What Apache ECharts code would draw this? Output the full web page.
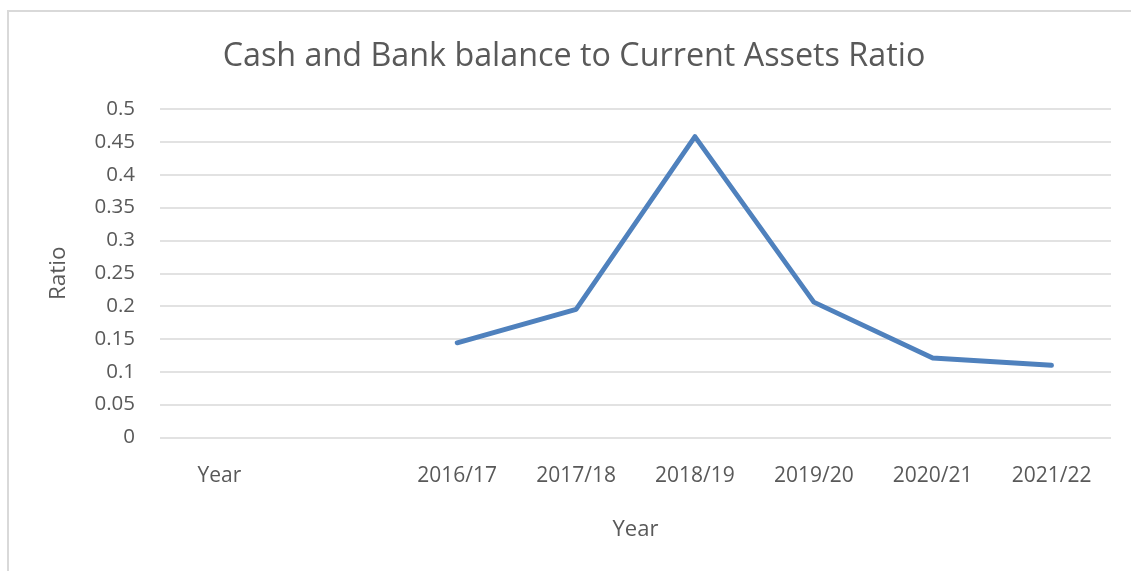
<!DOCTYPE html>
<html>
<head>
<meta charset="utf-8">
<script src="https://cdn.jsdelivr.net/npm/echarts@6/dist/echarts.min.js"></script>
<style>
  html, body { margin: 0; padding: 0; background: #ffffff; }
  #chart { width: 1131px; height: 571px; }
</style>
</head>
<body>
<div id="chart"></div>
<script>
// Category labels; the second slot is intentionally empty
const categories = ['Year', '', '2016/17', '2017/18', '2018/19', '2019/20', '2020/21', '2021/22'];
// Cash and bank balance / current assets ratio per year (no values for the first two slots)
const ratioValues = [null, null, 0.144, 0.195, 0.458, 0.206, 0.121, 0.110];
// Value axis ticks
const yTicks = [0, 0.05, 0.1, 0.15, 0.2, 0.25, 0.3, 0.35, 0.4, 0.45, 0.5];

const textColor = '#595959';
const fontFamily = '"Open Sans", "Noto Sans", sans-serif';

const chart = echarts.init(document.getElementById('chart'), null, { renderer: 'canvas' });

chart.setOption({
  animation: false,
  backgroundColor: '#ffffff',
  textStyle: { fontFamily: fontFamily, color: textColor },
  title: {
    text: 'Cash and Bank balance to Current Assets Ratio',
    left: 569,
    top: 36,
    textAlign: 'center',
    textStyle: { fontFamily: fontFamily, fontSize: 32.3, fontWeight: 'normal', color: textColor }
  },
  graphic: [{
    type: 'rect',
    shape: { x: 8, y: 11, width: 1160, height: 600 },
    style: { fill: 'none', stroke: '#d9d9d9', lineWidth: 2 },
    silent: true
  }],
  grid: { left: 160, right: 20, top: 109, bottom: 133.5 },
  xAxis: {
    type: 'category',
    data: categories,
    boundaryGap: true,
    name: 'Year',
    nameLocation: 'middle',
    nameGap: 81,
    nameTextStyle: { fontSize: 22, color: textColor, fontFamily: fontFamily },
    axisLine: { show: false },
    axisTick: { show: false },
    axisLabel: { margin: 28, fontSize: 21, color: textColor, fontFamily: fontFamily, interval: 0 },
    splitLine: { show: false }
  },
  yAxis: {
    type: 'value',
    min: yTicks[0],
    max: yTicks[yTicks.length - 1],
    interval: 0.05,
    name: 'Ratio',
    nameLocation: 'middle',
    nameGap: 90,
    nameRotate: 90,
    nameTextStyle: { fontSize: 22.5, color: textColor, fontFamily: fontFamily },
    axisLine: { show: false },
    axisTick: { show: false },
    axisLabel: {
      margin: 25, fontSize: 20.5, color: textColor, fontFamily: fontFamily,
      formatter: v => String(Math.round(v * 100) / 100)
    },
    splitLine: { show: true, lineStyle: { color: '#d9d9d9', width: 1.5 } }
  },
  series: [{
    type: 'line',
    data: ratioValues,
    showSymbol: false,
    symbol: 'none',
    connectNulls: false,
    lineStyle: { color: '#4f81bd', width: 4.8, cap: 'round', join: 'round' },
    itemStyle: { color: '#4f81bd' }
  }]
});
</script>
</body>
</html>
